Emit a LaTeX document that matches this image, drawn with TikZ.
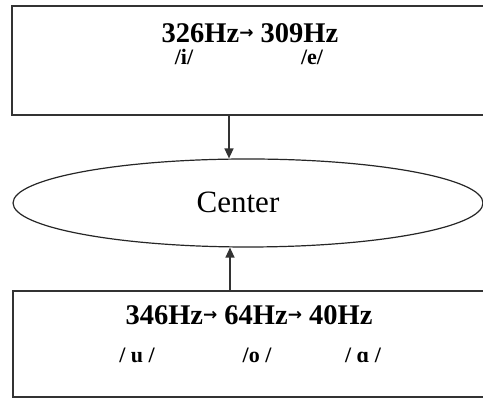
\documentclass[tikz,border=0pt]{standalone}
\usepackage{fontspec}
\setmainfont{Liberation Serif}
\newfontfamily\arrfont{DejaVu Sans}
\usetikzlibrary{shapes.geometric,arrows.meta}
\newcommand{\harr}{\raisebox{4pt}{\arrfont\fontsize{17}{17}\selectfont\bfseries→}}
\begin{document}
\begin{tikzpicture}[x=1pt,y=1pt,
  boxstyle/.style={draw=black!80,line width=1.4pt,rectangle,inner sep=0pt},
  lbl/.style={anchor=base,inner sep=0pt,font=\fontsize{28.5}{30}\selectfont\bfseries},
  ipa/.style={anchor=base,inner sep=0pt,font=\fontsize{22}{26}\selectfont\bfseries},
  arr/.style={draw=black!80,line width=1.4pt,-{Triangle[length=10pt,width=9pt]}}]
\useasboundingbox[fill=white] (0,0) rectangle (483,398);
% top box
\node[boxstyle,minimum width=500pt,minimum height=109pt] (tb) at (262,337.5) {};
\node[lbl] (t1) at (250,355) {326Hz\harr{} 309Hz};
\node[ipa] (ti) at (184,333) {/i/};
\node[ipa] (te) at (312,333) {/e/};
% ellipse
\node[draw=black!85,line width=1.2pt,ellipse,minimum width=470pt,minimum height=88pt,inner sep=0pt] (ell) at (248,195) {};
\node[anchor=base,inner sep=0pt,font=\fontsize{31}{34}\selectfont] (ct) at (238,185) {Center};
% bottom box
\node[boxstyle,minimum width=500pt,minimum height=106pt] (bb) at (263,54) {};
\node[lbl] (b1) at (249,73) {346Hz\harr{} 64Hz\harr{} 40Hz};
\node[ipa] (bu) at (137,35) {/ u /};
\node[ipa] (bo) at (257,35) {/o /};
\node[ipa] (ba) at (363,35) {/ ɑ /};
% connectors
\coordinate (ax) at (229,0);
\coordinate (bx) at (230,0);
\draw[arr] (tb.south -| ax) -- (ax |- ell.north);
\draw[arr] (bb.north -| bx) -- (bx |- ell.south);
\end{tikzpicture}
\end{document}
